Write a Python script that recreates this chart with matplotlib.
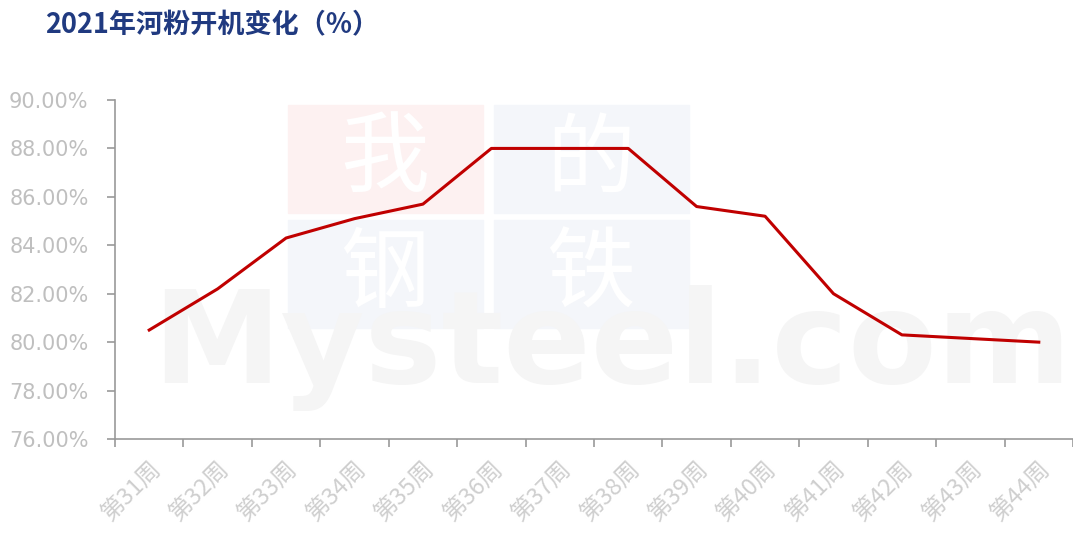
import matplotlib
matplotlib.use('Agg')
import matplotlib.pyplot as plt
from matplotlib.patches import Rectangle

plt.rcParams['font.family'] = ['Noto Sans CJK SC', 'DejaVu Sans']

weeks = ['第31周', '第32周', '第33周', '第34周', '第35周', '第36周', '第37周',
         '第38周', '第39周', '第40周', '第41周', '第42周', '第43周', '第44周']
rates = [80.5, 82.2, 84.3, 85.1, 85.7, 88.0, 88.0,
         88.0, 85.6, 85.2, 82.0, 80.3, 80.15, 80.0]
y_ticks = [76, 78, 80, 82, 84, 86, 88, 90]

W, H = 1073, 534
fig = plt.figure(figsize=(W / 100, H / 100), dpi=100)
ax = fig.add_axes([115 / W, 1 - 439 / H, 1 - 115 / W, (439 - 100) / H])
ax.patch.set_alpha(0)
ax.set_zorder(2)


def fx(px):
    return px / W


def fy(py):
    return 1 - py / H


# watermark (我的钢铁 / Mysteel.com)
boxes = [(288, 105, '#FDF1F1', '我'), (494, 105, '#F4F6FA', '的'),
         (288, 220, '#F4F6FA', '钢'), (494, 220, '#F4F6FA', '铁')]
for bx, by, col, ch in boxes:
    fig.add_artist(Rectangle((fx(bx), fy(by + 108)), 195 / W, 108 / H,
                             transform=fig.transFigure, color=col, zorder=0))
    fig.text(fx(bx + 97), fy(by + 56), ch, color='white', fontsize=64,
             fontweight='medium', ha='center', va='center', zorder=0.5)
fig.text(fx(152), fy(383), 'Mysteel.com', family='DejaVu Sans', fontweight='bold',
         fontsize=93, color='#F5F5F5', ha='left', va='baseline', zorder=0.4)

x = range(len(weeks))
ax.plot(x, rates, color='#C00000', lw=2.2, zorder=3, solid_joinstyle='round')

ax.set_xlim(-0.5, len(weeks) - 0.5)
ax.set_ylim(76, 90)
ax.set_yticks(y_ticks)
ax.set_yticklabels([f'{v:.2f}%' for v in y_ticks], family='DejaVu Sans',
                   fontsize=15, color='#BFBFBF')
ax.set_xticks([i - 0.5 for i in range(len(weeks) + 1)])
ax.set_xticklabels([])
ax.set_xticks(list(x), minor=True)
ax.set_xticklabels(weeks, minor=True, rotation=45, ha='right',
                   rotation_mode='anchor', fontsize=17, color='#CFCFCF')
ax.tick_params(axis='x', which='minor', length=0, pad=13)
ax.tick_params(axis='x', which='major', length=6, width=1.2, color='#999999')
ax.tick_params(axis='y', length=6, width=1.2, color='#999999', pad=13)

for s in ['top', 'right']:
    ax.spines[s].set_visible(False)
for s in ['left', 'bottom']:
    ax.spines[s].set_color('#999999')
    ax.spines[s].set_linewidth(1.2)

fig.text(45 / W, fy(25), '2021年河粉开机变化（%）', fontsize=19.5, fontweight='bold',
         color='#203A80', ha='left', va='center')

fig.savefig('out.png', dpi=100)
